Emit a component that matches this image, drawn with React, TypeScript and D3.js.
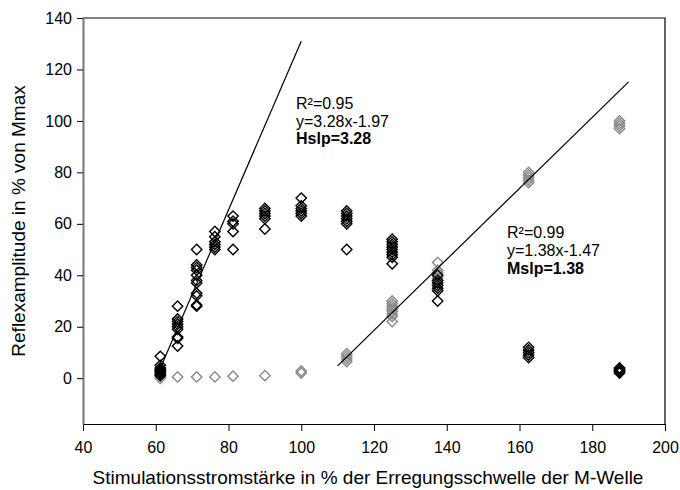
import { useEffect, useRef } from "react";
import * as d3 from "d3";

const width = 680;
const height = 490;

const margin = { top: 18, right: 15, bottom: 66, left: 83 };

// stimulation levels (% of M-wave threshold)
const stimLevels = [61.25, 66, 71.25, 76.25, 81.25, 90, 100, 112.5, 125, 137.5, 162.5, 187.5];

// H-reflex amplitudes per level (% of Mmax)
const hValues = [
  [8.5, 5, 4, 3.5, 3, 2.5, 2, 1.5, 1],
  [28, 23, 22, 21, 20, 19, 16, 15.5, 12.5],
  [50, 44, 43, 42, 40, 38, 37, 33, 32, 28.5, 28],
  [57, 55, 53, 52, 51, 50],
  [63, 61, 60, 57, 50],
  [66, 65, 64, 63, 62, 58],
  [70, 67, 66, 65, 64, 63],
  [65, 64, 63, 62, 61, 60, 50],
  [54, 53, 52, 51, 50, 49, 48, 47, 44.5],
  [40, 38, 37, 36, 35, 34, 30],
  [12, 11, 10, 9, 8],
  [4, 3.5, 3, 2.5, 2],
];

// M-wave amplitudes per level (% of Mmax)
const mValues = [
  [1, 0],
  [0.5],
  [0.5],
  [0.5],
  [0.8],
  [1],
  [2.8, 2],
  [9.5, 8.5, 7.5, 6.5],
  [30, 29, 28, 27, 26, 25, 24, 22],
  [45, 42, 41, 40, 39, 38],
  [80, 79, 78, 77, 76],
  [100, 99, 98, 97],
];

// linear fits: y = slope * x + intercept, drawn over [x0, x1]
const hFit = { slope: 3.28, intercept: -197, x0: 61.25, x1: 100 };
const mFit = { slope: 1.38, intercept: -147, x0: 110, x1: 190 };

const hLabel = ["R²=0.95", "y=3.28x-1.97", "Hslp=3.28"];
const mLabel = ["R²=0.99", "y=1.38x-1.47", "Mslp=1.38"];

const xTicks = [40, 60, 80, 100, 120, 140, 160, 180, 200];
const yTicks = [0, 20, 40, 60, 80, 100, 120, 140];

const font = "Arial, 'Liberation Sans', sans-serif";
const diamond = "M0,-5.2L5.2,0L0,5.2L-5.2,0Z";

const App = () => {
  const xRef = useRef<SVGGElement>(null);
  const yRef = useRef<SVGGElement>(null);

  const bottom = height - margin.bottom;
  const right = width - margin.right;

  const xScale = d3.scaleLinear().domain([40, 200]).range([margin.left, right]);
  const yScale = d3.scaleLinear().domain([-17.8, 140]).range([bottom, margin.top]);

  const fitPath = (f: typeof hFit) =>
    d3.line<number>()
      .x((d) => xScale(d))
      .y((d) => yScale(f.slope * d + f.intercept))([f.x0, f.x1]);

  useEffect(() => {
    const xa = d3.select(xRef.current!);
    xa.call(d3.axisBottom(xScale).tickValues(xTicks).tickSize(7).tickSizeOuter(0));
    xa.select(".domain").attr("stroke", "#000");
    xa.selectAll("text")
      .attr("font-size", 16)
      .attr("font-family", font)
      .attr("y", 18)
      .attr("fill", "#000");

    const ya = d3.select(yRef.current!);
    ya.call(d3.axisLeft(yScale).tickValues(yTicks).tickSize(6).tickSizeOuter(0));
    ya.select(".domain").attr("stroke", "#777").attr("stroke-width", 2);
    ya.selectAll("text")
      .attr("font-size", 16)
      .attr("font-family", font)
      .attr("x", -11)
      .attr("fill", "#000");
  }, []);

  return (
    <svg width={width} height={height} style={{ position: "absolute", left: 0, top: 0 }}>
      <rect x={0} y={0} width={width} height={height} fill="#fff" />
      {/* frame */}
      <path
        d={`M${margin.left},${margin.top}H${right}V${bottom}`}
        fill="none"
        stroke="#000"
        strokeWidth={1.2}
      />
      <g className="m-points">
        {mValues.map((vals, i) =>
          vals.map((v, j) => (
            <path
              key={`m-${i}-${j}`}
              d={diamond}
              transform={`translate(${xScale(stimLevels[i])},${yScale(v)})`}
              fill="none"
              stroke="#888"
              strokeWidth={1.4}
            />
          ))
        )}
      </g>
      <g className="h-points">
        {hValues.map((vals, i) =>
          vals.map((v, j) => (
            <path
              key={`h-${i}-${j}`}
              d={diamond}
              transform={`translate(${xScale(stimLevels[i])},${yScale(v)})`}
              fill="none"
              stroke="#000"
              strokeWidth={1.4}
            />
          ))
        )}
      </g>
      <path d={fitPath(hFit) ?? ""} stroke="#000" strokeWidth={1.2} fill="none" />
      <path d={fitPath(mFit) ?? ""} stroke="#000" strokeWidth={1.2} fill="none" />

      <g fontFamily={font} fontSize={16} fill="#000">
        {hLabel.map((t, i) => (
          <text key={t} x={296} y={109 + i * 17.5} fontWeight={i === 2 ? "bold" : "normal"}>
            {t}
          </text>
        ))}
        {mLabel.map((t, i) => (
          <text key={t} x={507} y={238 + i * 18} fontWeight={i === 2 ? "bold" : "normal"}>
            {t}
          </text>
        ))}
      </g>

      <g ref={xRef} transform={`translate(0,${bottom})`} />
      <g ref={yRef} transform={`translate(${margin.left},0)`} />

      <text x={368} y={484} textAnchor="middle" fontFamily={font} fontSize={19}>
        Stimulationsstromstärke in % der Erregungsschwelle der M-Welle
      </text>
      <text
        transform={`translate(25,${(margin.top + bottom) / 2}) rotate(-90)`}
        textAnchor="middle"
        fontFamily={font}
        fontSize={19}
      >
        Reflexamplitude in % von Mmax
      </text>
    </svg>
  );
};

export default App;
